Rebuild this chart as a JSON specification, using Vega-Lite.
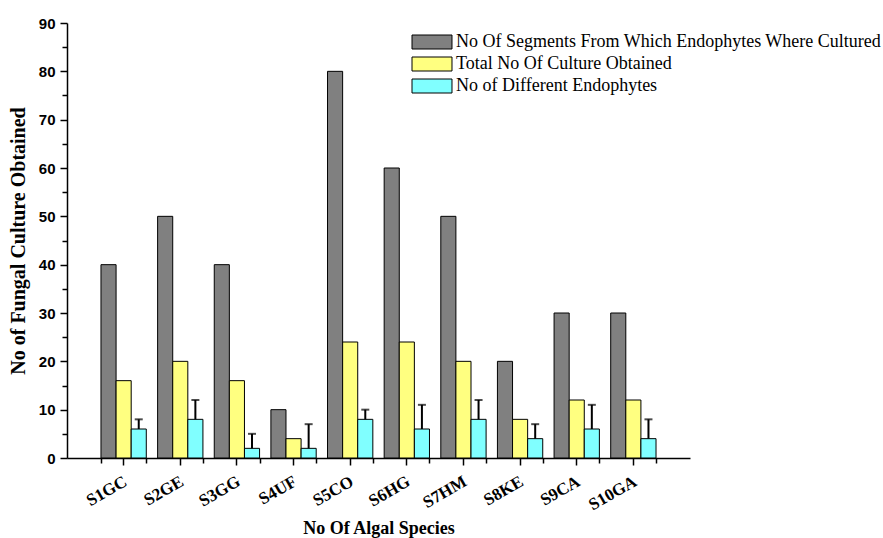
{
  "$schema": "https://vega.github.io/schema/vega-lite/v6.json",
  "autosize": {"type": "none"},
  "padding": {"left": 67, "top": 23, "right": 193, "bottom": 80},
  "width": 623,
  "height": 435,
  "background": "white",
  "config": {
    "view": {"stroke": null},
    "axis": {
      "domainColor": "black",
      "domainWidth": 1.5,
      "tickColor": "black",
      "tickWidth": 1.5,
      "labelColor": "black",
      "titleColor": "black",
      "grid": false
    },
    "legend": {
      "orient": "none",
      "legendX": 356,
      "legendY": 10,
      "title": null,
      "symbolType": "M-2.857,-1H2.857V1H-2.857Z",
      "symbolSize": 196,
      "symbolStrokeColor": "black",
      "symbolStrokeWidth": 1,
      "labelFont": "Liberation Serif",
      "labelFontSize": 18,
      "labelColor": "black",
      "labelOffset": 15,
      "labelLimit": 600,
      "rowPadding": 4,
      "padding": 0
    }
  },
  "data": {
    "values": [
      {"species": "S1GC", "series": "No Of Segments From Which Endophytes Where Cultured", "value": 40},
      {"species": "S1GC", "series": "Total No Of Culture Obtained", "value": 16},
      {"species": "S1GC", "series": "No of Different Endophytes", "value": 6, "upper": 8},
      {"species": "S2GE", "series": "No Of Segments From Which Endophytes Where Cultured", "value": 50},
      {"species": "S2GE", "series": "Total No Of Culture Obtained", "value": 20},
      {"species": "S2GE", "series": "No of Different Endophytes", "value": 8, "upper": 12},
      {"species": "S3GG", "series": "No Of Segments From Which Endophytes Where Cultured", "value": 40},
      {"species": "S3GG", "series": "Total No Of Culture Obtained", "value": 16},
      {"species": "S3GG", "series": "No of Different Endophytes", "value": 2, "upper": 5},
      {"species": "S4UF", "series": "No Of Segments From Which Endophytes Where Cultured", "value": 10},
      {"species": "S4UF", "series": "Total No Of Culture Obtained", "value": 4},
      {"species": "S4UF", "series": "No of Different Endophytes", "value": 2, "upper": 7},
      {"species": "S5CO", "series": "No Of Segments From Which Endophytes Where Cultured", "value": 80},
      {"species": "S5CO", "series": "Total No Of Culture Obtained", "value": 24},
      {"species": "S5CO", "series": "No of Different Endophytes", "value": 8, "upper": 10},
      {"species": "S6HG", "series": "No Of Segments From Which Endophytes Where Cultured", "value": 60},
      {"species": "S6HG", "series": "Total No Of Culture Obtained", "value": 24},
      {"species": "S6HG", "series": "No of Different Endophytes", "value": 6, "upper": 11},
      {"species": "S7HM", "series": "No Of Segments From Which Endophytes Where Cultured", "value": 50},
      {"species": "S7HM", "series": "Total No Of Culture Obtained", "value": 20},
      {"species": "S7HM", "series": "No of Different Endophytes", "value": 8, "upper": 12},
      {"species": "S8KE", "series": "No Of Segments From Which Endophytes Where Cultured", "value": 20},
      {"species": "S8KE", "series": "Total No Of Culture Obtained", "value": 8},
      {"species": "S8KE", "series": "No of Different Endophytes", "value": 4, "upper": 7},
      {"species": "S9CA", "series": "No Of Segments From Which Endophytes Where Cultured", "value": 30},
      {"species": "S9CA", "series": "Total No Of Culture Obtained", "value": 12},
      {"species": "S9CA", "series": "No of Different Endophytes", "value": 6, "upper": 11},
      {"species": "S10GA", "series": "No Of Segments From Which Endophytes Where Cultured", "value": 30},
      {"species": "S10GA", "series": "Total No Of Culture Obtained", "value": 12},
      {"species": "S10GA", "series": "No of Different Endophytes", "value": 4, "upper": 8}
    ]
  },
  "resolve": {"axis": {"x": "independent", "y": "independent"}},
  "layer": [
    {
      "mark": {"type": "bar", "stroke": "black", "strokeWidth": 1},
      "encoding": {
        "x": {
          "field": "species",
          "type": "nominal",
          "sort": null,
          "scale": {"paddingInner": 0.2, "paddingOuter": 0.6},
          "axis": {
            "orient": "bottom",
            "title": "No Of Algal Species",
            "titleFont": "Liberation Serif",
            "titleFontWeight": "bold",
            "titleFontSize": 18,
            "titleY": 75,
            "titleBaseline": "alphabetic",
            "labelFont": "Liberation Serif",
            "labelFontWeight": "bold",
            "labelFontSize": 17,
            "labelAngle": -30,
            "labelAlign": "right",
            "labelBaseline": "top",
            "labelPadding": 8,
            "labelOffset": -2,
            "tickSize": 7
          }
        },
        "xOffset": {
          "field": "series",
          "type": "nominal",
          "sort": null,
          "scale": {
            "domain": ["No Of Segments From Which Endophytes Where Cultured", "Total No Of Culture Obtained", "No of Different Endophytes"],
            "paddingInner": 0,
            "paddingOuter": 0
          }
        },
        "y": {
          "field": "value",
          "type": "quantitative",
          "scale": {"domain": [0, 90], "nice": false},
          "axis": {
            "orient": "left",
            "values": [0, 10, 20, 30, 40, 50, 60, 70, 80, 90],
            "title": "No of Fungal Culture Obtained",
            "titleFont": "Liberation Serif",
            "titleFontWeight": "bold",
            "titleFontSize": 20,
            "titleX": -49,
            "titleY": 217.5,
            "titleAlign": "center",
            "titleBaseline": "middle",
            "labelFont": "Liberation Sans",
            "labelFontWeight": "bold",
            "labelFontSize": 15,
            "labelPadding": 5,
            "tickSize": 7
          }
        },
        "color": {
          "field": "series",
          "type": "nominal",
          "sort": null,
          "scale": {
            "domain": ["No Of Segments From Which Endophytes Where Cultured", "Total No Of Culture Obtained", "No of Different Endophytes"],
            "range": ["#808080", "#ffff80", "#80ffff"]
          }
        }
      }
    },
    {
      "transform": [{"filter": "isValid(datum.upper)"}],
      "mark": {"type": "rule", "color": "black", "strokeWidth": 2},
      "encoding": {
        "x": {
          "field": "species",
          "type": "nominal",
          "sort": null,
          "axis": {
            "orient": "bottom",
            "title": null,
            "labels": false,
            "domain": false,
            "tickBand": "extent",
            "tickSize": 5
          }
        },
        "xOffset": {"field": "series", "type": "nominal", "sort": null},
        "y": {
          "field": "value",
          "type": "quantitative",
          "axis": {
            "orient": "left",
            "values": [5, 15, 25, 35, 45, 55, 65, 75, 85],
            "title": null,
            "labels": false,
            "domain": false,
            "tickSize": 5
          }
        },
        "y2": {"field": "upper"}
      }
    },
    {
      "transform": [{"filter": "isValid(datum.upper)"}],
      "mark": {"type": "tick", "color": "black", "size": 8, "thickness": 2},
      "encoding": {
        "x": {"field": "species", "type": "nominal", "sort": null, "axis": null},
        "xOffset": {"field": "series", "type": "nominal", "sort": null},
        "y": {"field": "upper", "type": "quantitative", "axis": null}
      }
    }
  ]
}
